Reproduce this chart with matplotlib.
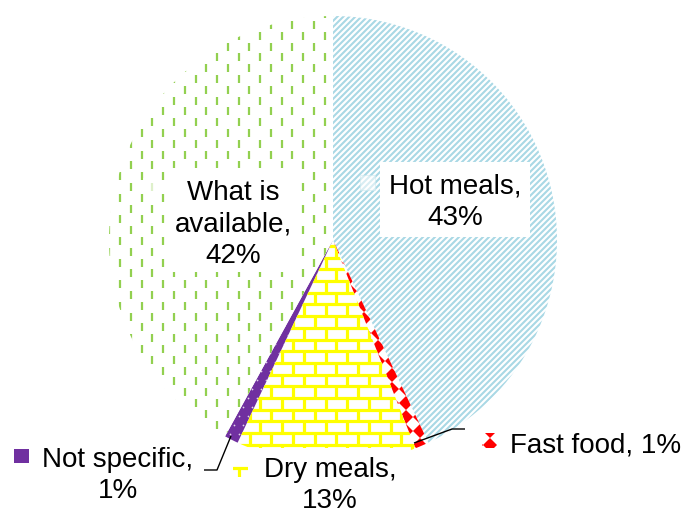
import numpy as np
import matplotlib
matplotlib.use("Agg")
import matplotlib.pyplot as plt
from matplotlib.patches import Rectangle
from matplotlib.collections import LineCollection, PolyCollection

plt.rcParams['font.family'] = ['Liberation Sans', 'DejaVu Sans']

# ---- data ----
categories = ["Hot meals", "Fast food", "Dry meals", "Not specific", "What is available"]
shares = [43, 1, 13, 1, 42]
label_texts = ["Hot meals,\n43%", "Fast food, 1%", "Dry meals,\n13%",
               "Not specific,\n1%", "What is\navailable,\n42%"]

W, H = 683, 515
fig = plt.figure(figsize=(W / 100, H / 100), dpi=100)
ax = fig.add_axes([0, 0, 1, 1])


def Y(y):
    """pixel row (top-down) -> data y (bottom-up)"""
    return H - y


cx, cy, R = 333, Y(240), 224
wedges, _ = ax.pie(shares, center=(cx, cy), radius=R, startangle=90,
                   counterclock=False, colors=["white"] * len(shares),
                   wedgeprops=dict(linewidth=0))
wedges[3].set_facecolor("#7030a0")
ax.set_xlim(0, W)
ax.set_ylim(0, H)
ax.set_aspect("equal")
ax.axis("off")


# ---- fill patterns ----
def stripes(clip, color="#a9d8e5", step=6.0, lw=1.5):
    segs = [[(0, c), (W, c + W)] for c in np.arange(-W - 20, H + 20, step)]
    lc = LineCollection(segs, colors=color, linewidths=lw, zorder=2)
    ax.add_collection(lc)
    lc.set_clip_path(clip)


def diamonds(clip, color="#ff0000", p=14.0):
    polys = []
    h = p / 2
    for x in np.arange(-p, W + p, p):
        for y in np.arange(-p, H + p, p):
            polys.append([(x - h, y), (x, y + h), (x + h, y), (x, y - h)])
    pc = PolyCollection(polys, facecolors=color, edgecolors="none", zorder=2)
    ax.add_collection(pc)
    pc.set_clip_path(clip)
    return pc


def bricks(clip, color="#ffff00", bh=11.7, bw=21.7, lw=2.3):
    segs = []
    for k, y in enumerate(np.arange(-bh, H + bh, bh)):
        segs.append([(0, y), (W, y)])
        off = (k % 2) * bw / 2
        for x in np.arange(-bw + off, W + bw, bw):
            segs.append([(x, y), (x, y + bh)])
    lc = LineCollection(segs, colors=color, linewidths=lw, zorder=2)
    ax.add_collection(lc)
    lc.set_clip_path(clip)
    return lc


def dots(clip, color="white", p=9.0):
    xs, ys = [], []
    for k, y in enumerate(np.arange(0, H, p)):
        for x in np.arange((k % 2) * p / 2, W, p):
            xs.append(x)
            ys.append(y)
    sc = ax.scatter(xs, ys, s=1.6, c=color, alpha=0.8, linewidths=0, zorder=2)
    sc.set_clip_path(clip)


def dashes(clip, color="#92d050", dx=10.77, dy=21.6, length=8.0, lw=1.6):
    segs = []
    for k, x in enumerate(np.arange(141.7 - 15 * dx, W + dx, dx)):
        for y in np.arange(-dy + (k % 2) * dy / 2, H + dy, dy):
            segs.append([(x, y), (x, y + length)])
    lc = LineCollection(segs, colors=color, linewidths=lw, zorder=2)
    ax.add_collection(lc)
    lc.set_clip_path(clip)


stripes(wedges[0])
diamonds(wedges[1])
bricks(wedges[2])
dots(wedges[3])
dashes(wedges[4])


# ---- data labels ----
def box(x0, y0, x1, y1):
    ax.add_patch(Rectangle((x0, Y(y1)), x1 - x0, y1 - y0, facecolor="white",
                           edgecolor="none", zorder=4))


def key(x0, y0, size=15):
    r = Rectangle((x0, Y(y0 + size)), size, size, facecolor="none",
                  edgecolor="none", zorder=5)
    ax.add_patch(r)
    return r


FS = 20
# va="baseline" on multi-line text anchors the last line's baseline
txt = dict(fontsize=FS, color="black", ha="center", va="baseline", zorder=6,
           linespacing=1.27)

# Hot meals
box(380, 162, 530, 237)
ax.add_patch(Rectangle((360, Y(190)), 15, 15, facecolor="white", alpha=0.55,
                       edgecolor="#cde8ef", linewidth=0.8, zorder=5))
ax.text(455, Y(225), label_texts[0], **txt)

# What is available
box(168, 168, 298, 272)
ax.add_patch(Rectangle((143, Y(193)), 15, 15, facecolor="white", alpha=0.7,
                       edgecolor="none", zorder=5))
ax.text(233, Y(263), label_texts[4], **txt)

# Dry meals
box(250, 448, 410, 515)
kd = key(233, 462)
ax.add_patch(Rectangle((233, Y(477)), 15, 15, facecolor="white",
                       edgecolor="none", zorder=5))
bricks(kd).set_zorder(6)
ax.text(330, Y(508), label_texts[2], **txt)

# Fast food
kf = key(482, 433)
diamonds(kf).set_zorder(6)
ax.text(596, Y(452), label_texts[1], **txt)
ax.plot([414, 452, 465], [Y(443), Y(429), Y(429)], color="black", lw=1.0,
        zorder=7, solid_capstyle="butt")

# Not specific
ax.add_patch(Rectangle((14, Y(463)), 15, 14, facecolor="#7030a0",
                       edgecolor="none", zorder=6))
ax.text(118, Y(498), label_texts[3], **txt)
ax.plot([231, 217, 204], [Y(436), Y(470), Y(470)], color="black", lw=1.0,
        zorder=7, solid_capstyle="butt")

fig.savefig("out.png", dpi=100)
